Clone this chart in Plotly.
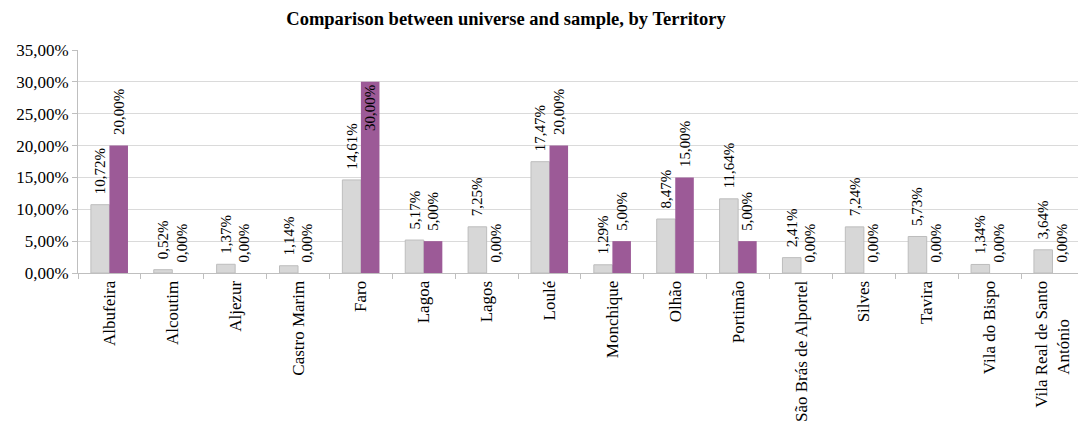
import plotly.graph_objects as go

NBSP = "\u00a0"

territories = [
    "Albufeira", "Alcoutim", "Aljezur", "Castro Marim", "Faro", "Lagoa",
    "Lagos", "Loulé", "Monchique", "Olhão", "Portimão",
    "São Brás de Alportel", "Silves", "Tavira", "Vila do Bispo",
    "Vila Real de Santo<br>António" + NBSP * 9,
]
universe = [10.72, 0.52, 1.37, 1.14, 14.61, 5.17, 7.25, 17.47, 1.29, 8.47,
            11.64, 2.41, 7.24, 5.73, 1.34, 3.64]
sample = [20.00, 0.00, 0.00, 0.00, 30.00, 5.00, 0.00, 20.00, 5.00, 15.00,
          5.00, 0.00, 0.00, 0.00, 0.00, 0.00]
y_ticks = [0, 5, 10, 15, 20, 25, 30, 35]

SERIF = "Times New Roman, Liberation Serif, serif"
Y_MAX = 35
# the category axis runs slightly past the right edge of the figure
X_SPAN = 15.906


def pct(v):
    return f"{v:.2f}%".replace(".", ",")


def label_positions(values):
    # labels that would run past the top of the axis go inside the bar
    return ["inside" if v > 27 else "outside" for v in values]


def bar_trace(values, name, fill, edge, edge_width):
    return go.Bar(
        x=territories, y=values, name=name,
        marker=dict(color=fill, line=dict(color=edge, width=edge_width)),
        texttemplate=NBSP * 2 + "%{y:.2f}%",
        textposition=label_positions(values),
        textangle=-90, insidetextanchor="end", constraintext="none",
        textfont=dict(family=SERIF, size=15, color="#000000"),
        cliponaxis=False,
    )


fig = go.Figure()
fig.add_trace(bar_trace(universe, "Universe", "#d7d7d7", "#bdbdbd", 1))
fig.add_trace(bar_trace(sample, "Sample", "#9c5a97", "#8a4c86", 0))

fig.update_layout(
    width=1078, height=430,
    margin=dict(l=78, r=0, t=50, b=157, pad=0),
    paper_bgcolor="white", plot_bgcolor="white",
    separators=",.",
    barmode="group", bargap=0.41, bargroupgap=0,
    showlegend=False,
    font=dict(family=SERIF, size=17, color="#000000"),
    title=dict(
        text="<b>Comparison between universe and sample, by Territory</b>",
        font=dict(family=SERIF, size=18.5, color="#000000"),
        x=0.4694, xref="container", xanchor="center",
        y=0.958, yref="container", yanchor="middle",
    ),
    xaxis=dict(
        range=[-0.5, -0.5 + X_SPAN],
        tickangle=-90, tickson="boundaries",
        ticks="outside", ticklen=5, tickcolor="#bfbfbf",
        showline=True, linecolor="#bfbfbf", linewidth=1,
        showgrid=False,
        tickfont=dict(family=SERIF, size=17),
    ),
    yaxis=dict(
        range=[0, Y_MAX], tickmode="array",
        tickvals=y_ticks, ticktext=[pct(v) for v in y_ticks],
        ticks="outside", ticklen=5, tickcolor="#bfbfbf",
        showline=True, linecolor="#bfbfbf", linewidth=1,
        showgrid=True, gridcolor="#dadada", gridwidth=1,
        zeroline=False,
        tickfont=dict(family=SERIF, size=17),
    ),
)

fig.write_html("out.html")
